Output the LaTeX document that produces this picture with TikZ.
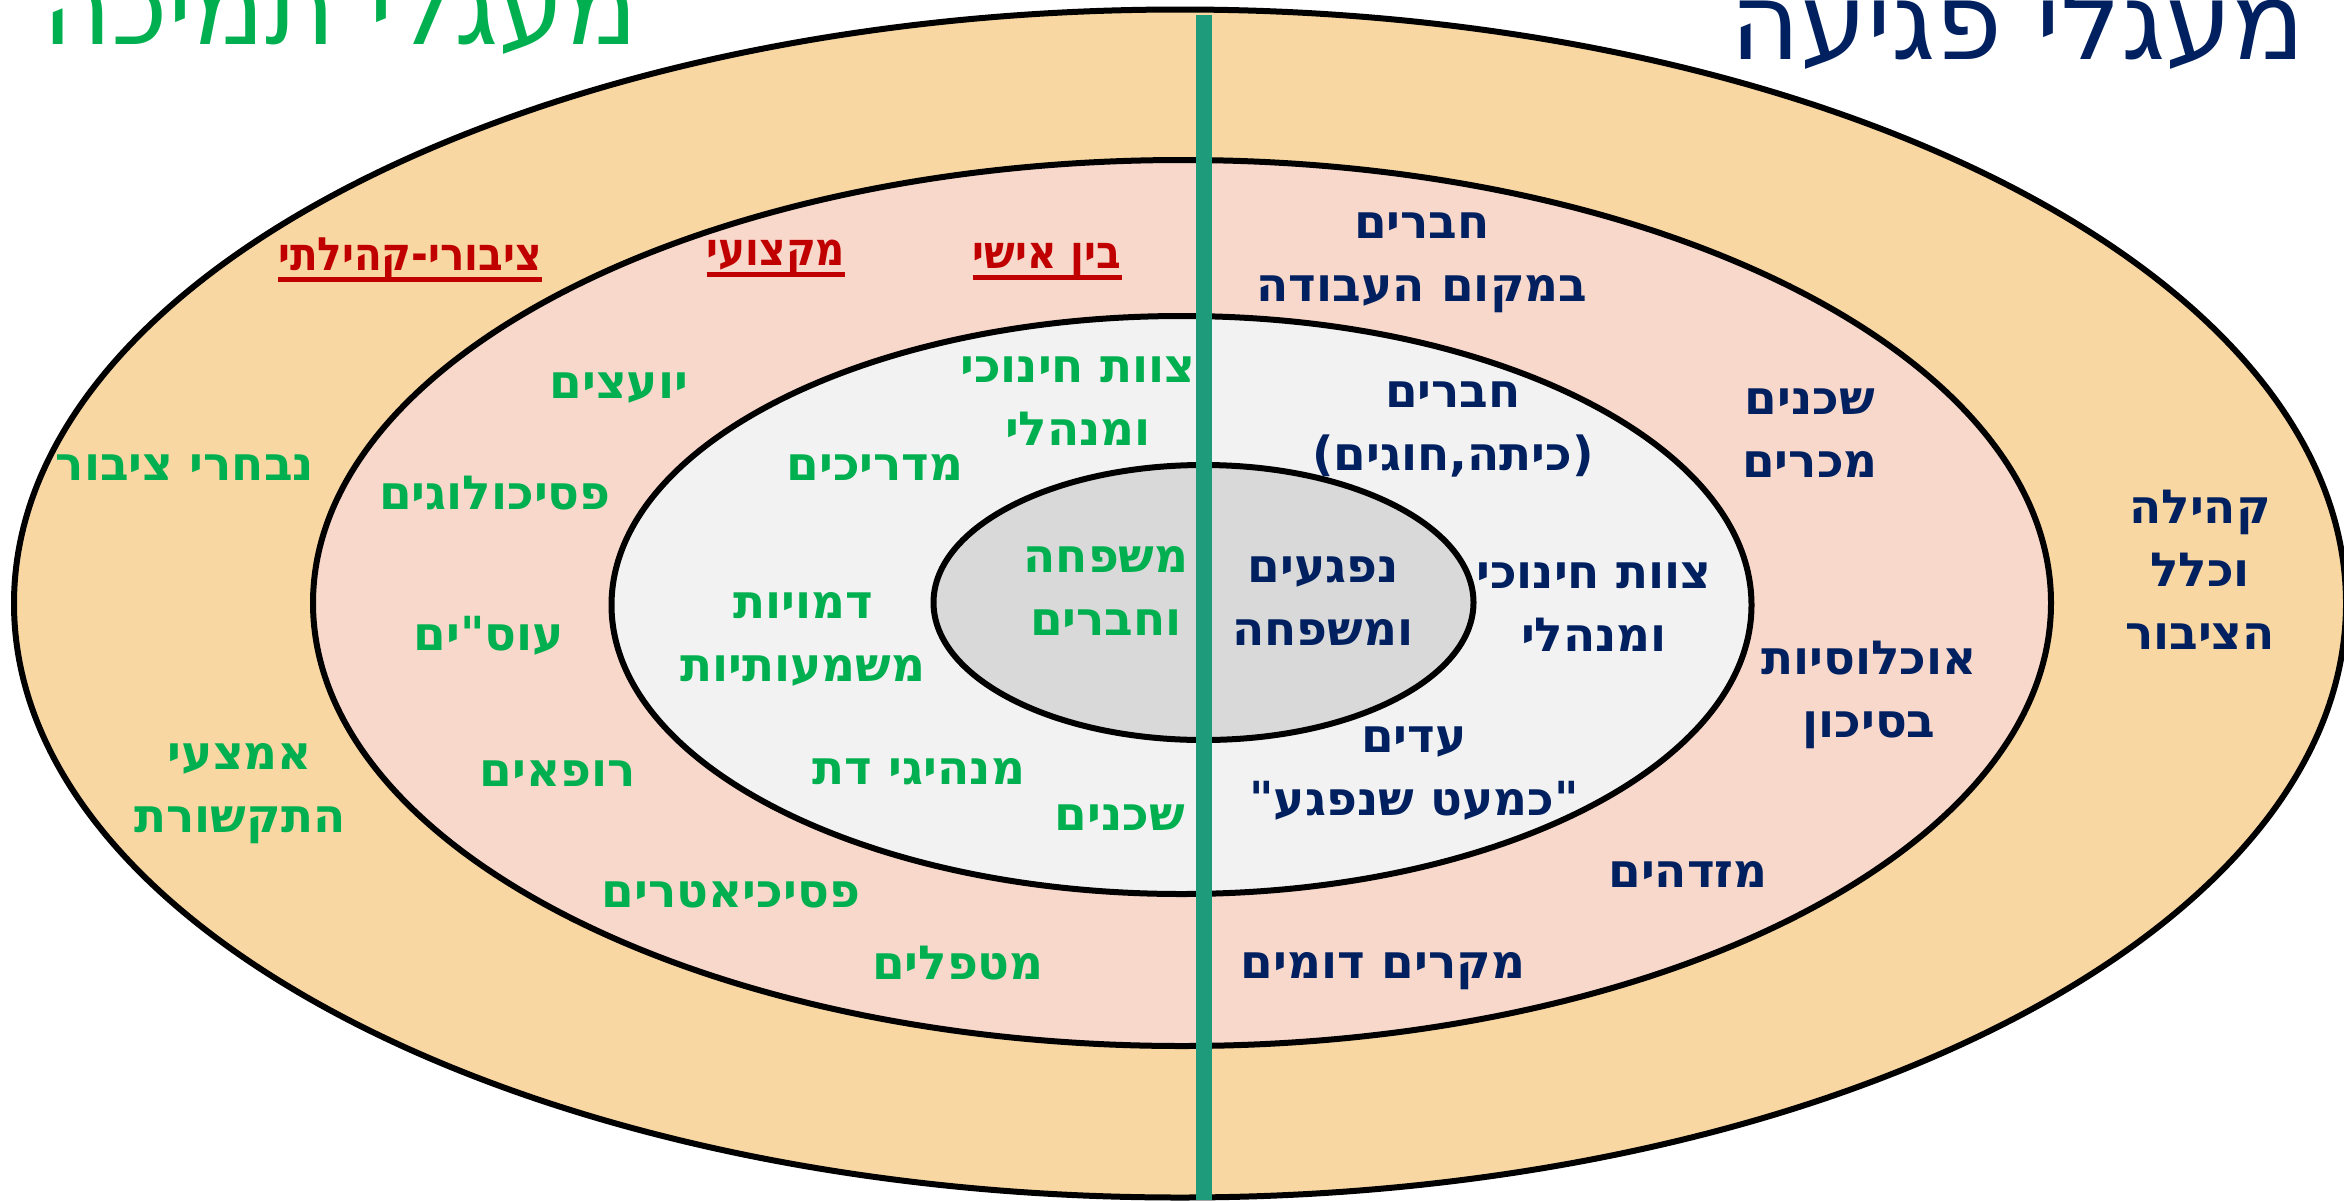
\documentclass[tikz,border=0pt]{standalone}
\usepackage{fontspec}
\TeXXeTstate=1
\newfontfamily\hebfont[Script=Hebrew]{DejaVu Sans}
\newfontfamily\hebcond[Script=Hebrew, FakeStretch=0.88]{DejaVu Sans}
\definecolor{navyc}{HTML}{002060}
\definecolor{greenc}{HTML}{00B050}
\definecolor{redc}{HTML}{C00000}
\definecolor{outerfill}{HTML}{F8D7A3}
\definecolor{pinkfill}{HTML}{F8D8CB}
\definecolor{lightfill}{HTML}{F2F2F2}
\definecolor{grayfill}{HTML}{D9D9D9}
\definecolor{linec}{HTML}{1E9B7B}
\newcommand{\rl}[1]{\beginR#1\endR}
\begin{document}
\begin{tikzpicture}[x=1pt,y=-1pt,
  ring/.style={draw=black, line width=6pt},
  txt/.style={font=\hebfont\bfseries\fontsize{47}{63}\selectfont, align=center, inner sep=0pt, anchor=center},
  suptxt/.style={txt, text=greenc},
  hittxt/.style={txt, text=navyc},
  cattxt/.style={font=\hebcond\bfseries\fontsize{46}{60}\selectfont, inner sep=0pt, anchor=center, text=redc},
  ttl/.style={font=\hebfont\fontsize{107}{120}\selectfont, inner sep=0pt, anchor=base},
  uline/.style={draw=redc, line width=5pt}
]
\useasboundingbox (0,0) rectangle (2344,1200);
\fill[white] (0,0) rectangle (2344,1200);
% rings
\draw[ring, fill=outerfill] (1180,603.5) ellipse [x radius=1166pt, y radius=594pt];
\draw[ring, fill=pinkfill] (1182,603) ellipse [x radius=869pt, y radius=443pt];
\draw[ring, fill=lightfill] (1181.5,605) ellipse [x radius=570pt, y radius=289pt];
\draw[ring, fill=grayfill] (1203.5,602.5) ellipse [x radius=270pt, y radius=137.5pt];
% divider
\coordinate (ltop) at (1204,15);
\coordinate (lbot) at (1204,1200);
\draw[draw=linec, line width=16pt] (ltop) -- (lbot);
% titles
\node[ttl, text=greenc] (tsup) at (340,44) {\rl{מעגלי תמיכה}};
\node[ttl, text=navyc] (thit) at (2018,59) {\rl{מעגלי פגיעה}};
% categories
\node[cattxt] (r1) at (410,260) {\rl{ציבורי-קהילתי}};
\node[cattxt] (r2) at (776,258) {\rl{מקצועי}};
\node[cattxt] (r3) at (1047,261) {\rl{בין אישי}};
\draw[uline] ([yshift=-9pt]r1.base west) -- ([yshift=-9pt]r1.base east);
\draw[uline] ([yshift=-9pt]r2.base west) -- ([yshift=-9pt]r2.base east);
\draw[uline] ([yshift=-9pt]r3.base west) -- ([yshift=-9pt]r3.base east);
% support (green)
\node[suptxt] (g1) at (619,388) {\rl{יועצים}};
\node[suptxt] (g2) at (1078,401) {\rl{צוות חינוכי}\\\rl{ומנהלי}};
\node[suptxt] (g3) at (185,468) {\rl{נבחרי ציבור}};
\node[suptxt] (g4) at (495,493) {\rl{פסיכולוגים}};
\node[suptxt] (g5) at (875,467) {\rl{מדריכים}};
\node[suptxt] (g6) at (1106,591) {\rl{משפחה}\\\rl{וחברים}};
\node[suptxt] (g7) at (803,639) {\rl{דמויות}\\\rl{משמעותיות}};
\node[suptxt] (g8) at (489,636) {\rl{עוס"ים}};
\node[suptxt] (g9) at (240,794) {\rl{אמצעי}\\\rl{התקשורת}};
\node[suptxt] (g10) at (558,774) {\rl{רופאים}};
\node[suptxt] (g11) at (919,772) {\rl{מנהיגי דת}};
\node[suptxt] (g12) at (1120,818) {\rl{שכנים}};
\node[suptxt] (g13) at (731,895) {\rl{פסיכיאטרים}};
\node[suptxt] (g14) at (958,963) {\rl{מטפלים}};
% harm (navy)
\node[hittxt] (n1) at (1422,263) {\rl{חברים}\\\rl{במקום העבודה}};
\node[hittxt] (n2) at (1453,429) {\rl{חברים}\\\rl{(כיתה,חוגים)}};
\node[hittxt] (n3) at (1323,601) {\rl{נפגעים}\\\rl{ומשפחה}};
\node[hittxt] (n4) at (1594,607) {\rl{צוות חינוכי}\\\rl{ומנהלי}};
\node[hittxt] (n5) at (1810,433) {\rl{שכנים}\\\rl{מכרים}};
\node[hittxt] (n6) at (2200,570) {\rl{קהילה}\\\rl{וכלל}\\\rl{הציבור}};
\node[hittxt] (n7) at (1869,695) {\rl{אוכלוסיות}\\\rl{בסיכון}};
\node[hittxt] (n8) at (1414,774) {\rl{עדים}\\\rl{"כמעט שנפגע"}};
\node[hittxt] (n9) at (1688,874) {\rl{מזדהים}};
\node[hittxt] (n10) at (1383,971) {\rl{מקרים דומים}};
\end{tikzpicture}
\end{document}
